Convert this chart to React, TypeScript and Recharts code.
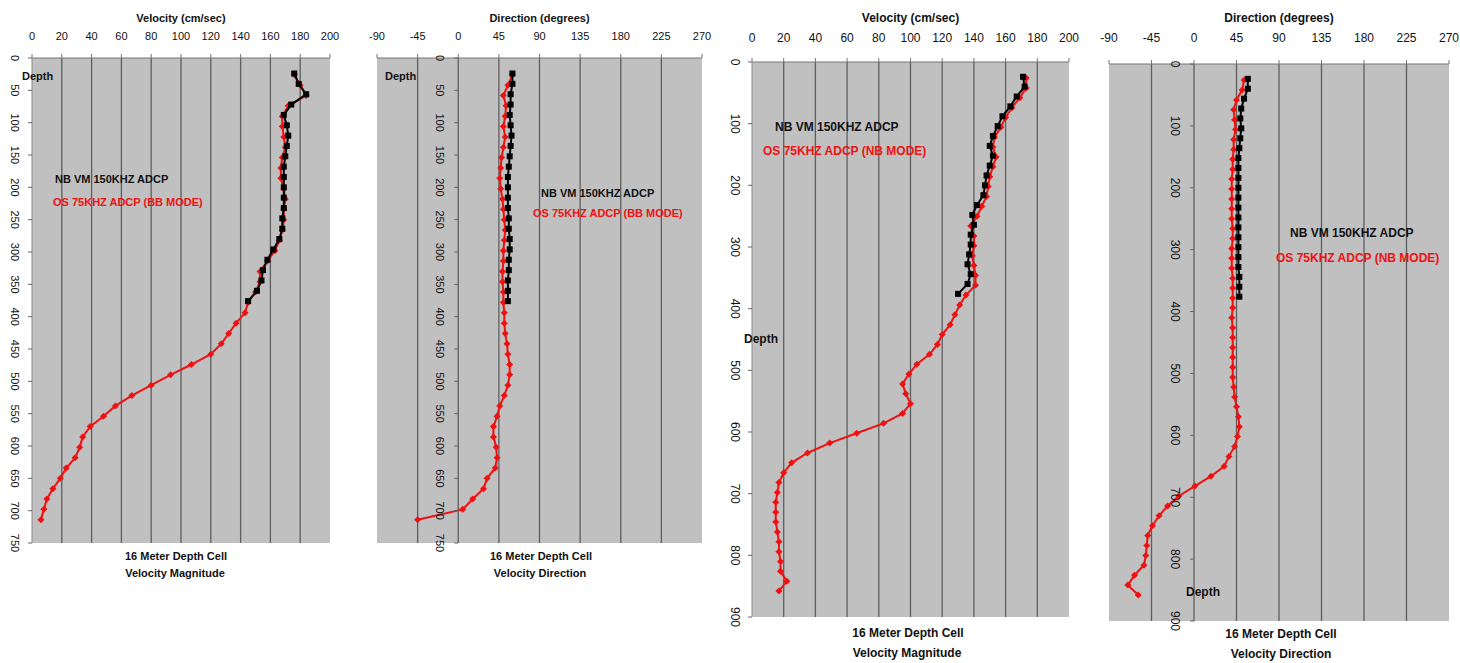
import React from "react";
import { ScatterChart, Scatter, XAxis, YAxis, CartesianGrid, ReferenceLine, Label } from "recharts";

const FONT = '"Liberation Sans", Arial, sans-serif';
const RED = "#ee1111";
const BG = "#c0c0c0";
const GRID = "#5e5e5e";

// depth bins (m) - 16 m cells
const depthNb = [24, 40, 56, 72, 88, 104, 120, 136, 152, 168, 184, 200, 216, 232, 248, 264, 280, 296, 312, 328, 344, 360, 376];
const depthOsBB = [26, 42, 58, 74, 90, 106, 122, 138, 154, 170, 186, 202, 218, 234, 250, 266, 282, 298, 314, 330, 346, 362, 378, 394, 410, 426, 442, 458, 474, 490, 506, 522, 538, 554, 570, 586, 602, 618, 634, 650, 666, 682, 698, 714];
const depthOsNB = [...depthOsBB, 730, 746, 762, 778, 794, 810, 826, 842, 858];

// left pair: BB mode
const nbSpeedA = [176, 179, 184, 174, 169, 171, 172, 171, 170, 169, 169, 169, 169, 169, 168, 168, 166, 162, 158, 155, 154, 151, 145];
const osSpeedA = [176, 180, 184, 172, 168, 168, 169, 170, 168, 167, 167, 169, 170, 169, 169, 168, 166, 163, 158, 153, 153, 150, 145, 143, 137, 132, 127, 120, 107, 93, 80, 67, 56, 48, 39, 34, 32, 29, 23, 19, 14, 10, 8, 6];
const nbDirA = [60, 60, 58, 58, 57, 58, 59, 58, 57, 56, 55, 55, 55, 55, 56, 56, 57, 57, 56, 56, 55, 55, 55];
const osDirA = [60, 55, 50, 53, 52, 50, 52, 50, 48, 47, 46, 47, 49, 50, 51, 52, 51, 50, 50, 49, 49, 50, 50, 51, 51, 52, 54, 55, 57, 57, 55, 51, 46, 43, 39, 39, 42, 43, 41, 32, 28, 16, 5, -45];

// right pair: NB mode
const nbSpeedB = [171, 172, 167, 163, 158, 155, 152, 150, 152, 150, 148, 147, 146, 142, 139, 140, 138, 138, 137, 136, 138, 136, 130];
const osSpeedB = [173, 173, 169, 164, 160, 157, 153, 152, 154, 152, 150, 149, 148, 145, 142, 138, 140, 140, 139, 140, 141, 141, 135, 131, 128, 125, 120, 117, 112, 104, 99, 95, 97, 100, 95, 83, 66, 49, 35, 25, 20, 17, 16, 15, 15, 15, 16, 17, 17, 18, 18, 22, 17];
const nbDirB = [57, 57, 53, 50, 49, 50, 49, 48, 47, 47, 47, 47, 47, 47, 47, 47, 47, 47, 47, 47, 48, 48, 48];
const osDirB = [53, 51, 45, 42, 43, 44, 42, 42, 41, 41, 40, 40, 40, 40, 40, 41, 41, 40, 40, 40, 41, 41, 41, 41, 40, 41, 41, 41, 41, 41, 41, 42, 43, 45, 47, 48, 46, 43, 37, 32, 18, 1, -16, -28, -37, -44, -49, -50, -51, -53, -63, -70, -59];

const speedTicks = [0, 20, 40, 60, 80, 100, 120, 140, 160, 180, 200];
const dirTicks = [-90, -45, 0, 45, 90, 135, 180, 225, 270];
const depthTicksA = [0, 50, 100, 150, 200, 250, 300, 350, 400, 450, 500, 550, 600, 650, 700, 750];
const depthTicksB = [0, 100, 200, 300, 400, 500, 600, 700, 800, 900];

const zip = (depths: number[], values: number[]) => values.map((v, i) => ({ depth: depths[i], value: v }));

const Square = (p: any) => <rect x={p.cx - 3} y={p.cy - 3} width={6} height={6} fill="#000" />;
const Diamond = (p: any) => (
  <polygon points={`${p.cx},${p.cy - 3.5} ${p.cx + 3.5},${p.cy} ${p.cx},${p.cy + 3.5} ${p.cx - 3.5},${p.cy}`} fill={RED} />
);

type PanelProps = {
  left: number;
  width: number;
  height: number;
  plot: { left: number; top: number; right: number; bottom: number };
  xTicks: number[];
  yTicks: number[];
  xTitle: string;
  black: { depth: number; value: number }[];
  red: { depth: number; value: number }[];
  atZero: boolean;
  fs: number;
  tickGap: number;
  xTickMargin: number;
  texts: { text: string; x: number; y: number; color?: string; center?: boolean }[];
};

function Panel(props: PanelProps) {
  const { left, width, height, plot, xTicks, yTicks, black, red, atZero, fs, tickGap } = props;
  const xMin = xTicks[0];
  const xMax = xTicks[xTicks.length - 1];
  const plotW = plot.right - plot.left;
  const shift = atZero ? (plotW * (0 - xMin)) / (xMax - xMin) : 0;
  const topMargin = 26;

  const depthTick = (p: any) => {
    const x0 = p.x + shift;
    const tx = x0 - tickGap;
    return (
      <g>
        <line x1={x0 - 4} x2={x0} y1={p.y} y2={p.y} stroke="#666" />
        <text
          x={tx}
          y={p.y}
          transform={`rotate(90, ${tx}, ${p.y})`}
          textAnchor="middle"
          dominantBaseline="central"
          fontSize={fs}
          fontFamily={FONT}
          fill="#111"
        >
          {p.payload.value}
        </text>
      </g>
    );
  };

  return (
    <div style={{ position: "absolute", left, top: 0, width, height }}>
      <ScatterChart
        width={width}
        height={height}
        margin={{ top: topMargin, left: 0, right: width - plot.right, bottom: height - plot.bottom }}
      >
        <CartesianGrid horizontal={false} vertical={false} fill={BG} fillOpacity={1} stroke="none" />
        {xTicks.slice(1, -1).map((t) => (
          <ReferenceLine key={t} x={t} stroke={GRID} strokeWidth={1.3} />
        ))}
        <XAxis
          type="number"
          dataKey="value"
          orientation="top"
          domain={[xMin, xMax]}
          ticks={xTicks}
          interval={0}
          allowDataOverflow
          height={plot.top - topMargin}
          tickSize={4}
          tickMargin={props.xTickMargin}
          stroke="#777"
          tick={{ fontSize: fs, fontFamily: FONT, fill: "#111" }}
        >
          <Label value={props.xTitle} position="top" offset={4} style={{ fontSize: fs, fontFamily: FONT, fill: "#111", fontWeight: "bold" }} />
        </XAxis>
        <YAxis
          type="number"
          dataKey="depth"
          reversed
          domain={[yTicks[0], yTicks[yTicks.length - 1]]}
          ticks={yTicks}
          interval={0}
          allowDataOverflow
          width={plot.left}
          tickSize={0}
          tickMargin={0}
          axisLine={atZero ? false : { stroke: "#888" }}
          tick={depthTick}
        />
        <Scatter data={red} fill={RED} shape={Diamond} line={{ stroke: RED, strokeWidth: 2 }} isAnimationActive={false} />
        <Scatter data={black} fill="#000" shape={Square} line={{ stroke: "#000", strokeWidth: 2 }} isAnimationActive={false} />
      </ScatterChart>
      {props.texts.map((t, i) => (
        <div
          key={i}
          style={{
            position: "absolute",
            left: t.x - left,
            top: t.y,
            transform: t.center ? "translate(-50%, -50%)" : "translateY(-50%)",
            whiteSpace: "nowrap",
            fontFamily: FONT,
            fontWeight: "bold",
            fontSize: fs,
            color: t.color || "#111",
            lineHeight: 1,
          }}
        >
          {t.text}
        </div>
      ))}
    </div>
  );
}

export default function App() {
  return (
    <div style={{ position: "absolute", left: 0, top: 0, width: 1460, height: 663, background: "#fff", overflow: "hidden" }}>
      <Panel
        left={0}
        width={360}
        height={600}
        plot={{ left: 32, top: 58, right: 330, bottom: 543 }}
        xTicks={speedTicks}
        yTicks={depthTicksA}
        xTitle="Velocity (cm/sec)"
        black={zip(depthNb, nbSpeedA)}
        red={zip(depthOsBB, osSpeedA)}
        atZero={false}
        fs={11}
        tickGap={17}
        xTickMargin={14}
        texts={[
          { text: "Depth", x: 22, y: 76 },
          { text: "NB VM 150KHZ ADCP", x: 55, y: 179 },
          { text: "OS 75KHZ ADCP (BB MODE)", x: 53, y: 202, color: RED },
          { text: "16 Meter Depth Cell", x: 176, y: 556, center: true },
          { text: "Velocity Magnitude", x: 175, y: 573, center: true },
        ]}
      />
      <Panel
        left={360}
        width={360}
        height={600}
        plot={{ left: 17, top: 58, right: 342, bottom: 543 }}
        xTicks={dirTicks}
        yTicks={depthTicksA}
        xTitle="Direction (degrees)"
        black={zip(depthNb, nbDirA)}
        red={zip(depthOsBB, osDirA)}
        atZero={true}
        fs={11}
        tickGap={18}
        xTickMargin={14}
        texts={[
          { text: "Depth", x: 385, y: 76 },
          { text: "NB VM 150KHZ ADCP", x: 541, y: 193 },
          { text: "OS 75KHZ ADCP (BB MODE)", x: 533, y: 213, color: RED },
          { text: "16 Meter Depth Cell", x: 541, y: 556, center: true },
          { text: "Velocity Direction", x: 540, y: 573, center: true },
        ]}
      />
      <Panel
        left={720}
        width={370}
        height={663}
        plot={{ left: 32, top: 62, right: 349, bottom: 617 }}
        xTicks={speedTicks}
        yTicks={depthTicksB}
        xTitle="Velocity (cm/sec)"
        black={zip(depthNb, nbSpeedB)}
        red={zip(depthOsNB, osSpeedB)}
        atZero={false}
        fs={12}
        tickGap={17}
        xTickMargin={16}
        texts={[
          { text: "Depth", x: 744, y: 339 },
          { text: "NB VM 150KHZ ADCP", x: 775, y: 127 },
          { text: "OS 75KHZ ADCP (NB MODE)", x: 763, y: 151, color: RED },
          { text: "16 Meter Depth Cell", x: 908, y: 633, center: true },
          { text: "Velocity Magnitude", x: 907, y: 653, center: true },
        ]}
      />
      <Panel
        left={1090}
        width={370}
        height={663}
        plot={{ left: 19, top: 64, right: 359, bottom: 621 }}
        xTicks={dirTicks}
        yTicks={depthTicksB}
        xTitle="Direction (degrees)"
        black={zip(depthNb, nbDirB)}
        red={zip(depthOsNB, osDirB)}
        atZero={true}
        fs={12}
        tickGap={19}
        xTickMargin={18}
        texts={[
          { text: "Depth", x: 1186, y: 592 },
          { text: "NB VM 150KHZ ADCP", x: 1290, y: 233 },
          { text: "OS 75KHZ ADCP (NB MODE)", x: 1276, y: 258, color: RED },
          { text: "16 Meter Depth Cell", x: 1281, y: 634, center: true },
          { text: "Velocity Direction", x: 1281, y: 654, center: true },
        ]}
      />
    </div>
  );
}
